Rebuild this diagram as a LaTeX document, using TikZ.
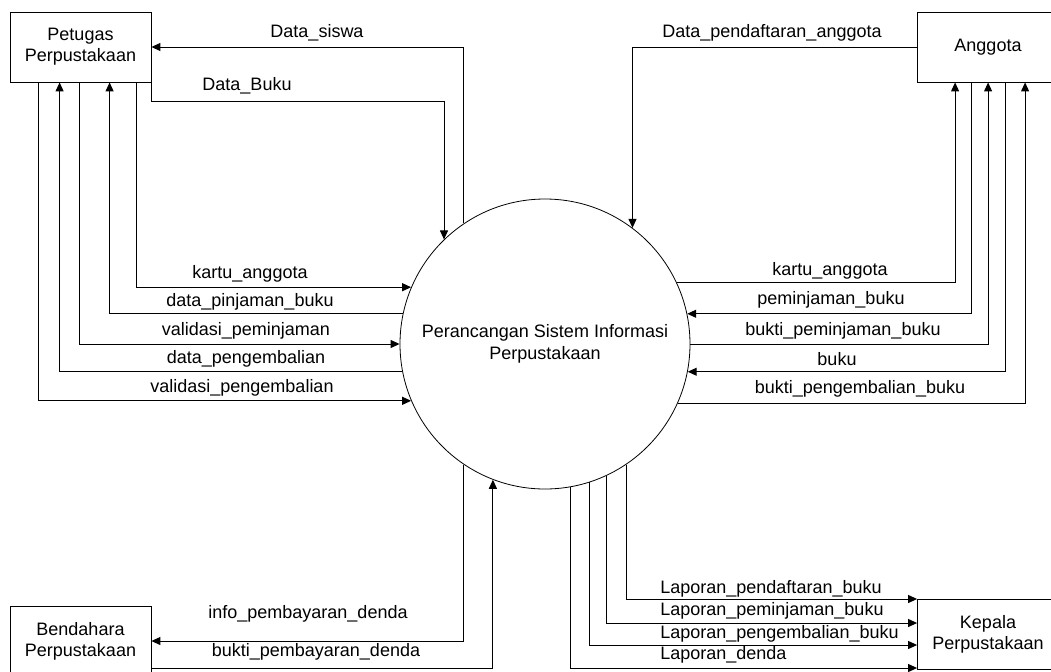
\documentclass[tikz,border=0pt]{standalone}
\usepackage{fontspec}
\setmainfont{Liberation Sans}
\usetikzlibrary{arrows.meta,calc}

\begin{document}
\begin{tikzpicture}[x=0.5pt,y=-0.5pt,
        entity/.style={draw,minimum width=70.5pt,minimum height=35pt,inner sep=0pt,align=center,font=\fontsize{9}{10.5}\selectfont},
        process/.style={draw,circle,minimum size=145pt,inner sep=0pt,align=center,font=\fontsize{9}{11}\selectfont},
        flow/.style={line width=0.5pt,-{Triangle[length=4.5pt,width=4pt]}},
        lbl/.style={inner sep=0pt,font=\fontsize{9}{11}\selectfont}]
            \clip (0,0) rectangle (1051,671);
            \node[entity] (petugas) at (80.5,47) {Petugas\\Perpustakaan};
            \node[entity] (anggota) at (988,47) {Anggota};
            \node[entity] (bendahara) at (80.5,641) {Bendahara\\Perpustakaan};
            \node[entity] (kepala) at (988,634) {Kepala\\Perpustakaan};
            \node[process] (sistem) at (545,344) {Perancangan Sistem Informasi\\Perpustakaan};

            % petugas
            \draw[flow] (sistem.124.4) |- (petugas.east);
            \draw[flow] ($(petugas.east)+(0,21)$) -- ++(0,33) -| (sistem.134.7);
            \draw[flow] ($(petugas.south west)+(127,0)$) |- (sistem.157.3);
            \draw[flow] (sistem.168.9) -| ($(petugas.south west)+(100,0)$);
            \draw[flow] ($(petugas.south west)+(70,0)$) |- (sistem.180);
            \draw[flow] (sistem.191.5) -| ($(petugas.south west)+(50,0)$);
            \draw[flow] ($(petugas.south west)+(29,0)$) |- (sistem.203.1);
            \node[lbl] (siswa) at (317,33) {Data\_siswa};
            \node[lbl] (buku) at (247,86) {Data\_Buku};
            \node[lbl] (kartu1) at (250,274) {kartu\_anggota};
            \node[lbl] (pinjam) at (250,302) {data\_pinjaman\_buku};
            \node[lbl] (valpinjam) at (246,331) {validasi\_peminjaman};
            \node[lbl] (kembali) at (246,359) {data\_pengembalian};
            \node[lbl] (valkembali) at (242,388) {validasi\_pengembalian};

            % anggota
            \draw[flow] (anggota.west) -| (sistem.53.6);
            \draw[flow] (sistem.25.3) -| ($(anggota.south west)+(38,0)$);
            \draw[flow] ($(anggota.south west)+(54,0)$) |- (sistem.12.3);
            \draw[flow] (sistem.0) -| ($(anggota.south west)+(71,0)$);
            \draw[flow] ($(anggota.south west)+(88,0)$) |- (sistem.349.3);
            \draw[flow] (sistem.336.4) -| ($(anggota.south west)+(108,0)$);
            \node[lbl] (daftar) at (772,33) {Data\_pendaftaran\_anggota};
            \node[lbl] (kartu2) at (830,271) {kartu\_anggota};
            \node[lbl] (peminjaman) at (831,300) {peminjaman\_buku};
            \node[lbl] (buktipinjam) at (843,331) {bukti\_peminjaman\_buku};
            \node[lbl] (bukubuku) at (837,359) {buku};
            \node[lbl] (buktikembali) at (860,389) {bukti\_pengembalian\_buku};

            % bendahara
            \draw[flow] (sistem.236) |- (bendahara.east);
            \draw[flow] ($(bendahara.east)+(0,27)$) -| (sistem.249);
            \node[lbl] (info) at (308,614) {info\_pembayaran\_denda};
            \node[lbl] (buktibayar) at (316,652) {bukti\_pembayaran\_denda};

            % kepala
            \draw[flow] (sistem.304.9) |- ($(kepala.west)+(0,-35)$);
            \draw[flow] (sistem.295.3) |- ($(kepala.west)+(0,-11)$);
            \draw[flow] (sistem.288.5) |- ($(kepala.west)+(0,11)$);
            \draw[flow] (sistem.280.3) |- ($(kepala.west)+(0,34)$);
            \node[lbl,anchor=west] (lapdaftar) at (660,589) {Laporan\_pendaftaran\_buku};
            \node[lbl,anchor=west] (lappinjam) at (660,611) {Laporan\_peminjaman\_buku};
            \node[lbl,anchor=west] (lapkembali) at (660,634) {Laporan\_pengembalian\_buku};
            \node[lbl,anchor=west] (lapdenda) at (660,655) {Laporan\_denda};
        \end{tikzpicture}
\end{document}
